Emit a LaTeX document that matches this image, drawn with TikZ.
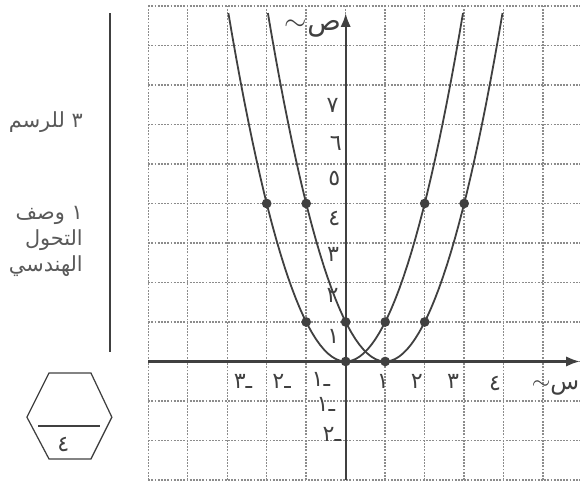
\documentclass[tikz,border=0pt]{standalone}
\usepackage{fontspec}
\newfontfamily\arabicfont[Script=Arabic]{DejaVu Sans}
\TeXXeTstate=1
\usetikzlibrary{arrows.meta}
\definecolor{pencil}{HTML}{404040}
\definecolor{gridgray}{HTML}{8C8C8C}
\tikzset{>=Latex}
\tikzset{
    gridline/.style = {gridgray, line width=1pt, dash pattern=on 1.3pt off 1pt},
    axis/.style = {pencil, line width=1.7pt, -{Latex[length=10pt,width=7.5pt]}},
    curve/.style = {pencil, line width=1.3pt},
    dot/.style = {circle, fill=pencil, inner sep=0pt, minimum size=7pt},
    num/.style = {text=pencil, font=\arabicfont\fontsize{16}{16}\selectfont, inner sep=0pt},
    varname/.style = {text=pencil, font=\arabicfont\fontsize{20}{20}\selectfont, inner sep=0pt},
    note/.style = {text=black!65, font=\arabicfont\fontsize{15}{19}\selectfont,
                        align=right, inner sep=0pt}
}

\begin{document}
\begin{tikzpicture}
	\useasboundingbox (-8.752,-3.177) rectangle (5.932,9.152);
	% squared paper
	\foreach \x in {-5,...,5}
		\draw [gridline] (\x,-3) -- (\x,9);
	\foreach \y in {-3,...,9}
		\draw [gridline] (-5,\y) -- (5.95,\y);
	% axes
	\coordinate (xstart) at (-5,0);
	\coordinate (xend) at (5.93,0);
	\coordinate (ystart) at (0,-3);
	\coordinate (yend) at (0,8.82);
	\draw [axis] (xstart) -- (xend);
	\draw [axis] (ystart) -- (yend);
	% the two parabolas
	\draw [curve, domain=-2.97:2.97, samples=60] plot (\x, {\x*\x});
	\draw [curve, domain=-1.97:3.97, samples=60] plot (\x, {(\x-1)*(\x-1)});
	\foreach \x/\y [count=\i] in {-2/4,-1/1,0/0,1/1,2/4}
		\node (a\i) [dot] at (\x,\y) {};
	\foreach \x/\y [count=\i] in {-1/4,0/1,1/0,2/1,3/4}
		\node (b\i) [dot] at (\x,\y) {};
	% numbers on the axes
	\node (xm3) [num] at (-2.6,-0.5) {ـ٣};
	\node (xm2) [num] at (-1.62,-0.5) {ـ٢};
	\node (xm1) [num] at (-0.63,-0.45) {ـ١};
	\node (xp1) [num] at (0.94,-0.5) {١};
	\node (xp2) [num] at (1.8,-0.5) {٢};
	\node (xp3) [num] at (2.72,-0.5) {٣};
	\node (xp4) [num] at (3.78,-0.55) {٤};
	\node (ym1) [num] at (-0.5,-1.1) {ـ١};
	\node (ym2) [num] at (-0.35,-1.85) {ـ٢};
	\node (yp1) [num] at (-0.31,0.63) {١};
	\node (yp2) [num] at (-0.33,1.68) {٢};
	\node (yp3) [num] at (-0.32,2.7) {٣};
	\node (yp4) [num] at (-0.29,3.62) {٤};
	\node (yp5) [num] at (-0.29,4.64) {٥};
	\node (yp6) [num] at (-0.25,5.52) {٦};
	\node (yp7) [num] at (-0.33,6.47) {٧};
	\node (ylabel) [varname] at (-0.83,8.44) {$\sim$ص};
	\node (xlabel) [varname, anchor=east, font=\arabicfont\fontsize{17}{17}\selectfont] at (5.92,-0.67) {$\sim$س};
	% marks column
	\coordinate (bartop) at (-5.97,8.82);
	\coordinate (barbot) at (-5.97,0.24);
	\draw [pencil, line width=1.3pt] (bartop) -- (barbot);
	\node (drawmark) [note, anchor=east] at (-6.65,6.06) {\beginR ٣ للرسم\endR};
	\node (descmark) [note, anchor=east] at (-6.65,3.04) {\beginR ١ وصف\endR\\\beginR التحول\endR\\\beginR الهندسي\endR};
	% total box
	\draw [pencil, line width=0.9pt] (-7.51,-0.29) -- (-6.45,-0.29) -- (-5.92,-1.41)
		-- (-6.45,-2.47) -- (-7.51,-2.47) -- (-8.07,-1.41) -- cycle;
	\draw [pencil, line width=1.5pt] (-7.78,-1.63) -- (-6.22,-1.63);
	\node (total) [num] at (-7.15,-2.11) {٤};
\end{tikzpicture}
\end{document}
